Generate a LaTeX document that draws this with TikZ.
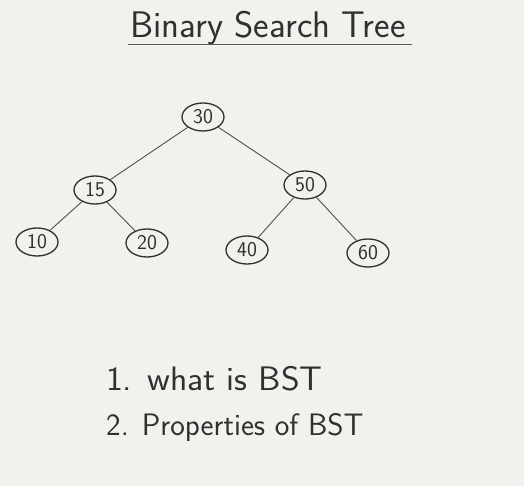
\documentclass[tikz,border=0pt]{standalone}
\usetikzlibrary{positioning}
\usetikzlibrary{shapes.geometric}

\definecolor{board}{RGB}{243,241,237}
\definecolor{marker}{RGB}{48,48,48}

\tikzset{
  key/.style={ellipse, draw=marker, line width=1.3pt, minimum width=42pt,
    minimum height=28pt, inner sep=0pt, text=marker,
    font=\sffamily\fontsize{21}{21}\selectfont},
  branch/.style={draw=marker!85, line width=0.9pt},
  hand/.style={text=marker, inner sep=0pt, anchor=base west},
}

\begin{document}
\begin{tikzpicture}[x=1pt,y=-1pt]
  % whiteboard
  \fill[board] (0,0) rectangle (524,486);
  \useasboundingbox (0,0) rectangle (524,486);

  % title and its underline
  \node[hand, font=\sffamily\fontsize{37}{37}\selectfont] (title) at (130,38) {Binary Search Tree};
  \coordinate (ulA) at (128,44);
  \coordinate (ulB) at (412,44);
  \draw[marker!80, line width=0.8pt] (ulA) -- (ulB);

  % keys of the tree
  \node[key] (k30) at (203,117) {30};
  \node[key] (k15) at (95,190) {15};
  \node[key] (k50) at (305,185) {50};
  \node[key] (k10) at (37,242) {10};
  \node[key] (k20) at (147,243) {20};
  \node[key] (k40) at (247,250) {40};
  \node[key] (k60) at (368,253) {60};

  % branches
  \draw[branch] (k30) -- (k15);
  \draw[branch] (k30) -- (k50);
  \draw[branch] (k15) -- (k10);
  \draw[branch] (k15) -- (k20);
  \draw[branch] (k50) -- (k40);
  \draw[branch] (k50) -- (k60);

  % notes
  \node[hand, font=\sffamily\fontsize{34}{34}\selectfont, xscale=1.05] (note1) at (106,390) {1. what is BST};
  \node[hand, font=\sffamily\fontsize{31}{31}\selectfont] (note2) at (106,435) {2. Properties of BST};
\end{tikzpicture}
\end{document}
